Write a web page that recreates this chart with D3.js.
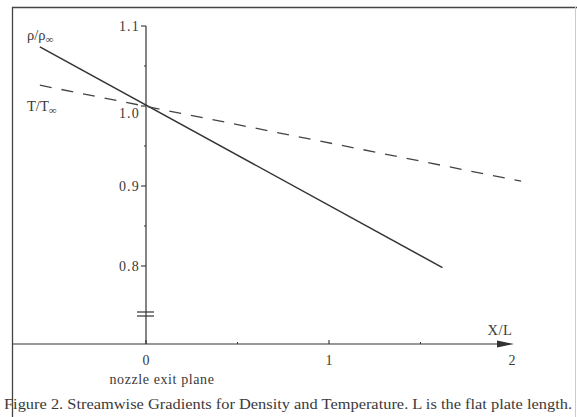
<!DOCTYPE html>
<html><head><meta charset="utf-8">
<script src="https://cdn.jsdelivr.net/npm/d3@7"></script>
<style>body{margin:0;background:#fff}svg{display:block}text{font-family:"Liberation Serif","Times New Roman",serif;fill:#3a3a3a}</style>
</head><body><svg id="c" width="577" height="417"></svg>
<script>
const xTicks = [0, 1, 2];
const xMinorTicks = [0.5, 1.5];
const yTicks = [0.8, 0.9, 1.0, 1.1];
const yTickLabels = ["0.8", "0.9", "1.0", "1.1"];
const yMinorTicks = [0.85, 0.95, 1.05];
const densityX = [-0.58, 1.62];
const densityY = [1.074, 0.798];
const tempX = [-0.58, 2.05];
const tempY = [1.026, 0.906];

const svg = d3.select("#c");
const x = d3.scaleLinear().domain([0, 1]).range([146, 329]);
const y = d3.scaleLinear().domain([1.0, 0.9]).range([106, 186]);
const ink = "#333";

// frame
svg.append("path").attr("d", "M12.5,417 V7.5 H577").attr("fill","none").attr("stroke","#444").attr("stroke-width",1.3);
svg.append("line").attr("x1",575.5).attr("x2",575.5).attr("y1",7).attr("y2",417).attr("stroke","#ccc").attr("stroke-width",1);

// y axis
const yAxis = svg.append("g");
yAxis.append("line").attr("x1",x(0)).attr("x2",x(0)).attr("y1",y(1.1)).attr("y2",344).attr("stroke",ink).attr("stroke-width",1.2);
yAxis.selectAll(".yt").data(yTicks).join("line").attr("x1",x(0)-5).attr("x2",x(0)).attr("y1",d=>y(d)).attr("y2",d=>y(d)).attr("stroke",ink).attr("stroke-width",1.1);
yAxis.selectAll(".ym").data(yMinorTicks).join("line").attr("x1",x(0)-2).attr("x2",x(0)).attr("y1",d=>y(d)).attr("y2",d=>y(d)).attr("stroke",ink).attr("stroke-width",1);
yAxis.selectAll(".yl").data(yTicks).join("text")
  .attr("x",x(0)-6).attr("y",d=>y(d)+(d===1.0?12:5)).attr("text-anchor","end")
  .attr("font-size",14).attr("letter-spacing",1.2).text((d,i)=>yTickLabels[i]);
// break marks
[312,316].forEach(v=>yAxis.append("line").attr("x1",x(0)-9).attr("x2",x(0)+8).attr("y1",v).attr("y2",v).attr("stroke",ink).attr("stroke-width",1.2));

// x axis
const xa = svg.append("g");
const xEnd = 514;
xa.append("line").attr("x1",13).attr("x2",xEnd-8).attr("y1",344).attr("y2",344).attr("stroke",ink).attr("stroke-width",1.2);
xa.append("path").attr("d",`M${xEnd},344 L${xEnd-17},340.5 L${xEnd-17},347.5 Z`).attr("fill",ink);
xa.selectAll(".xt").data(xTicks.slice(0,2)).join("line").attr("x1",d=>x(d)).attr("x2",d=>x(d)).attr("y1",340).attr("y2",344).attr("stroke",ink).attr("stroke-width",1.1);
xa.selectAll(".xm").data(xMinorTicks).join("line").attr("x1",d=>x(d)).attr("x2",d=>x(d)).attr("y1",342).attr("y2",344).attr("stroke",ink).attr("stroke-width",1);
xa.selectAll(".xl").data(xTicks).join("text").attr("x",d=>x(d)).attr("y",365).attr("text-anchor","middle").attr("font-size",14).text(d=>d);
xa.append("text").attr("x",500).attr("y",335).attr("text-anchor","middle").attr("font-size",14.5).attr("letter-spacing",0.5).text("X/L");
svg.append("text").attr("x",162).attr("y",384).attr("text-anchor","middle").attr("font-size",14).attr("letter-spacing",0.6).text("nozzle exit plane");

// lines
const line = d3.line().x(d=>x(d[0])).y(d=>y(d[1]));
svg.append("path").attr("d",line(densityX.map((v,i)=>[v,densityY[i]]))).attr("fill","none").attr("stroke",ink).attr("stroke-width",1.5);
svg.append("path").attr("d",line(tempX.map((v,i)=>[v,tempY[i]]))).attr("fill","none").attr("stroke","#444").attr("stroke-width",1.3).attr("stroke-dasharray","12,10");

// series labels
svg.append("text").attr("x",27).attr("y",40).attr("font-size",14.5).html('ρ/ρ<tspan font-size="11" dy="3">∞</tspan>');
svg.append("text").attr("x",27).attr("y",111).attr("font-size",14.5).html('T/T<tspan font-size="11" dy="3">∞</tspan>');

// caption
svg.append("text").attr("x",4).attr("y",409).attr("font-size",14).attr("textLength",568).attr("lengthAdjust","spacingAndGlyphs").text("Figure 2. Streamwise Gradients for Density and Temperature.  L is the flat plate length.");
</script></body></html>
